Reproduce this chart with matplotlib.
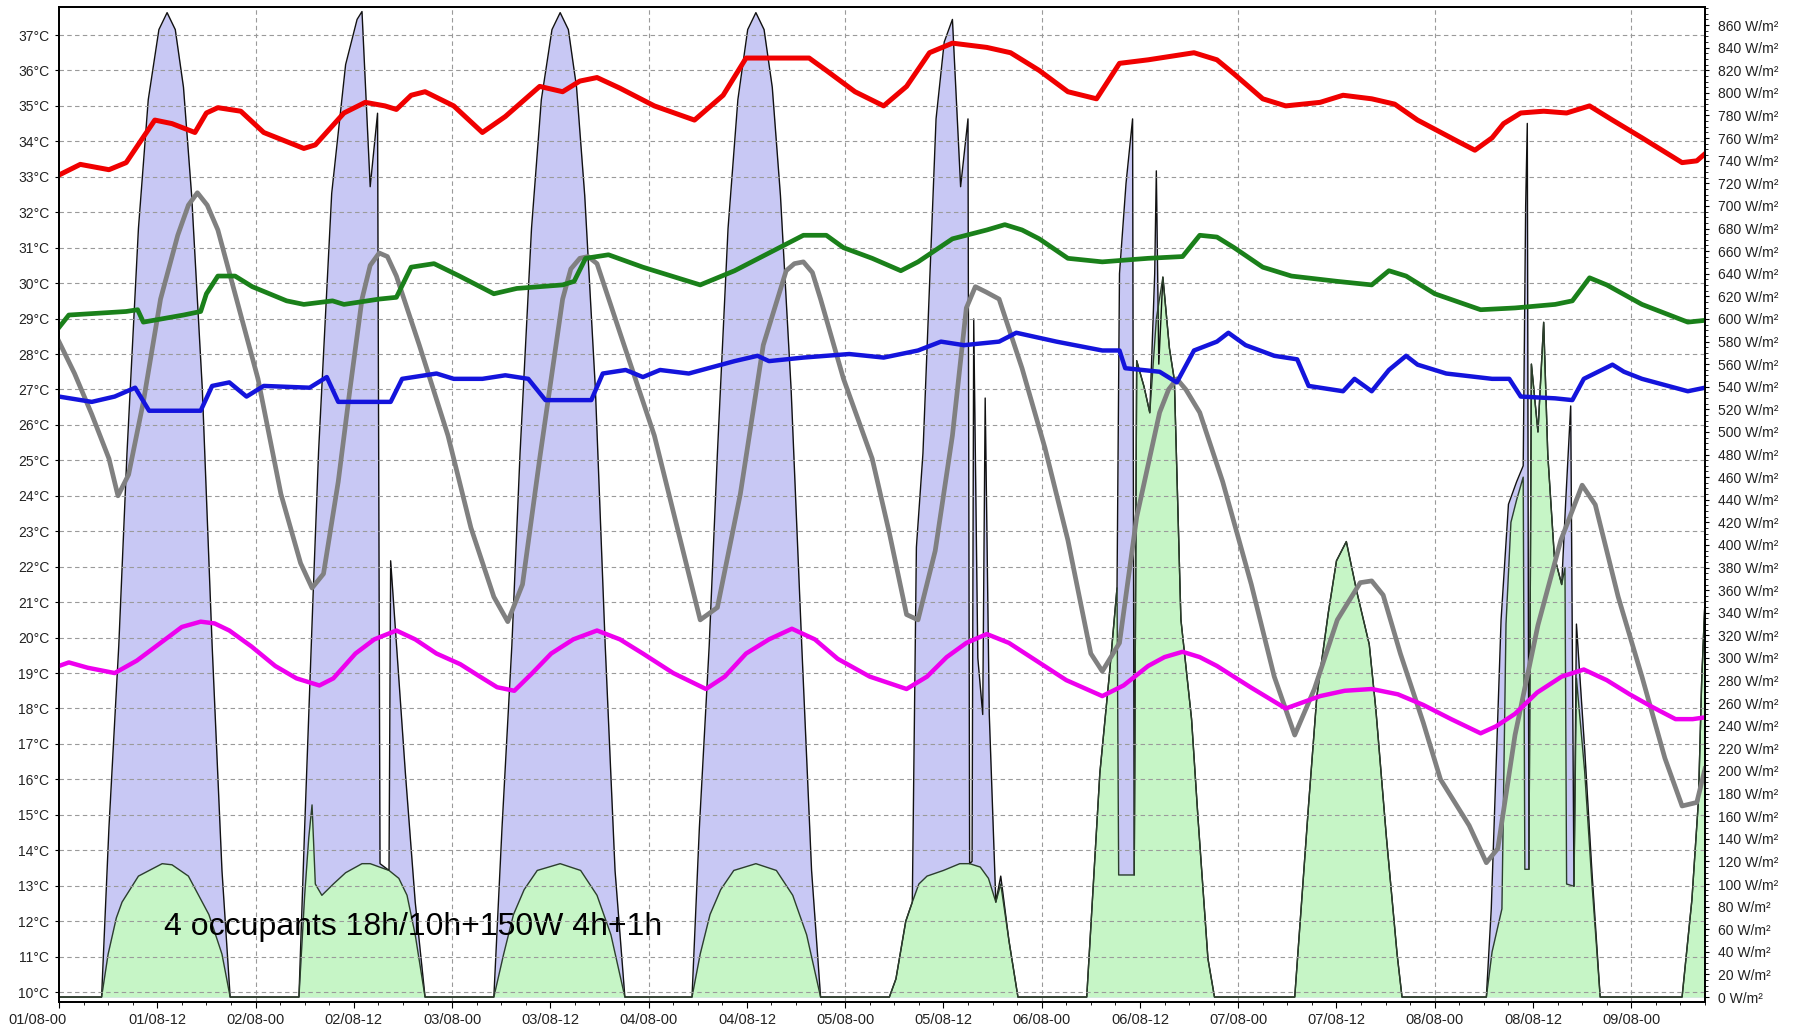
import matplotlib
matplotlib.use('Agg')
import matplotlib.pyplot as plt
import matplotlib.transforms as mtrans
from matplotlib.ticker import MultipleLocator, FixedLocator

plt.rcParams['font.family'] = ['Liberation Sans', 'DejaVu Sans']

# time axis in hours from 01/08-00
x_ticks = list(range(0, 193, 12))
x_labels = ['01/08-00', '01/08-12', '02/08-00', '02/08-12', '03/08-00', '03/08-12',
            '04/08-00', '04/08-12', '05/08-00', '05/08-12', '06/08-00', '06/08-12',
            '07/08-00', '07/08-12', '08/08-00', '08/08-12', '09/08-00']

# global irradiance (lavender area), W/m2
t_glob = [0, 5.2, 6.1, 7.3, 8.3, 9.7, 10.9, 12.2, 13.2, 14.2, 15.2, 16.2, 17.5, 18.7, 19.9, 20.9,
          29.3, 30.0, 31.0, 31.7, 33.3, 35.0, 36.4, 37.0, 38.0, 38.9, 39.2, 40.3, 40.5, 42.3, 43.5, 44.7,
          53.1, 54.1, 55.3, 56.3, 57.7, 58.9, 60.2, 61.2, 62.2, 63.2, 64.2, 65.5, 66.7, 67.9, 69.1,
          77.3, 78.2, 79.4, 80.4, 81.7, 82.9, 84.1, 85.1, 86.1, 87.1, 88.1, 89.4, 90.7, 91.9, 93.0,
          101.4, 102.2, 103.4, 104.2, 104.7, 105.5, 107.1, 108.1, 109.1, 110.1, 111.0, 111.2, 111.5,
          111.7, 112.2, 112.8, 113.1, 113.6, 114.4, 115.0, 116.0, 117.1,
          125.5, 127.1, 128.3, 129.2, 129.5, 130.3, 131.1, 131.3, 131.6, 132.5, 133.2, 133.8, 134.0,
          134.3, 134.8, 135.6, 136.2, 137.0, 138.3, 139.1, 140.3, 141.1,
          150.9, 151.8, 152.6, 153.6, 155.0, 156.0, 157.2, 158.5, 160.0, 160.8, 162.1, 163.4, 164.0,
          174.3, 174.9, 176.1, 177.0, 178.0, 178.8, 179.1, 179.3, 179.5, 179.8, 180.6, 181.3, 181.8,
          182.6, 183.5, 184.0, 184.6, 185.0, 185.3, 186.3, 187.2, 188.2,
          198.2, 199.4, 200.2, 200.6, 201.0]
glob = [0, 0, 150, 311, 481, 680, 794, 856, 871, 856, 805, 709, 538, 311, 112, 0,
        0, 150, 350, 483, 711, 825, 865, 872, 717, 782, 118, 112, 386, 198, 84, 0,
        0, 150, 311, 481, 680, 794, 856, 871, 856, 805, 709, 538, 311, 112, 0,
        0, 150, 311, 481, 680, 794, 856, 871, 856, 805, 709, 538, 311, 112, 0,
        0, 16, 67, 84, 398, 481, 777, 845, 865, 717, 777, 118, 120,
        600, 300, 250, 530, 250, 84, 107, 50, 0,
        0, 198, 288, 362, 640, 720, 777, 108, 563, 540, 517, 640, 731,
        560, 637, 574, 546, 334, 246, 157, 34, 0,
        0, 90, 171, 266, 340, 386, 403, 358, 312, 255, 141, 38, 0,
        0, 78, 334, 436, 456, 470, 700, 773, 113, 560, 500, 597, 480,
        390, 365, 440, 523, 98, 330, 220, 110, 0,
        0, 86, 174, 281, 351]

# diffuse irradiance (green area), W/m2
t_diff = [0, 5.2, 6.0, 7.0, 7.7, 9.7, 12.6, 13.8, 15.8, 18.3, 19.9, 20.9,
          29.3, 30.0, 30.5, 30.9, 31.3, 32.1, 33.5, 35.0, 37.0, 38.0, 40.3, 41.5, 42.5, 43.5, 44.7,
          53.1, 54.3, 55.5, 56.8, 58.4, 61.2, 63.7, 65.7, 67.4, 69.1,
          77.3, 78.3, 79.5, 80.8, 82.4, 85.1, 87.6, 89.6, 91.3, 93.0,
          101.4, 102.2, 103.4, 104.2, 105.0, 106.0, 108.0, 110.0, 111.2, 112.5, 113.5, 114.4, 115.0,
          116.0, 117.1,
          125.5, 127.1, 128.3, 129.2, 129.4, 131.3, 131.6, 132.5, 133.2, 134.0, 134.8, 135.6, 136.2,
          137.0, 138.3, 139.1, 140.3, 141.1,
          150.9, 151.8, 152.6, 153.6, 155.0, 156.0, 157.2, 158.5, 160.0, 160.8, 162.1, 163.4, 164.0,
          174.3, 175.0, 176.2, 176.7, 177.3, 178.0, 178.8, 179.0, 179.5, 179.8, 180.6, 181.3, 181.8,
          182.6, 183.5, 183.9, 184.1, 185.0, 185.3, 186.3, 187.2, 188.2,
          198.2, 199.4, 200.2, 200.6, 201.0]
diff = [0, 0, 38, 70, 84, 107, 118, 117, 107, 73, 38, 0,
        0, 90, 141, 170, 100, 90, 100, 110, 118, 118, 112, 105, 90, 55, 0,
        0, 38, 73, 95, 112, 118, 112, 90, 55, 0,
        0, 38, 73, 95, 112, 118, 112, 90, 55, 0,
        0, 16, 67, 84, 100, 107, 112, 118, 118, 115, 105, 84, 100,
        50, 0,
        0, 198, 288, 362, 108, 108, 563, 540, 517, 600, 637, 574, 546,
        334, 246, 157, 34, 0,
        0, 90, 171, 266, 340, 386, 403, 358, 312, 255, 141, 38, 0,
        0, 40, 78, 330, 420, 440, 460, 113, 113, 560, 500, 597, 480,
        390, 365, 380, 100, 98, 282, 200, 100, 0,
        0, 86, 174, 281, 351]

# temperatures, degC
t_red = [0, 2.6, 6.1, 8.2, 11.7, 13.8, 16.6, 18.0, 19.4, 22.2, 25.0, 29.9, 31.3, 34.8, 37.4, 39.8,
         41.2, 43.0, 44.7, 48.2, 51.7, 54.5, 58.7, 61.5, 63.6, 65.7, 68.5, 72.7, 77.6, 81.1, 83.9,
         88.1, 91.6, 93.7, 97.2, 100.7, 103.5, 106.3, 109.1, 113.3, 116.2, 119.7, 123.2, 126.7,
         128.1, 129.5, 133.0, 135.8, 138.6, 141.4, 143.5, 147.0, 149.8, 154.0, 156.8, 160.3, 163.1,
         165.9, 170.8, 172.9, 175.0, 176.4, 178.5, 181.3, 184.1, 186.9, 189.7, 193.3, 198.2, 200.0, 201.0]
red = [33.05, 33.35, 33.2, 33.4, 34.6, 34.5, 34.25, 34.8, 34.95, 34.85, 34.25, 33.8, 33.9, 34.8, 35.1, 35.0,
       34.9, 35.3, 35.4, 35.0, 34.25, 34.7, 35.55, 35.4, 35.7, 35.8, 35.5, 35.0, 34.6, 35.3, 36.35,
       36.35, 36.35, 36.0, 35.4, 35.0, 35.55, 36.5, 36.77, 36.65, 36.5, 36.0, 35.4, 35.2,
       35.7, 36.2, 36.3, 36.4, 36.5, 36.3, 35.9, 35.2, 35.0, 35.1, 35.3, 35.2, 35.05,
       34.6, 34.0, 33.75, 34.1, 34.5, 34.8, 34.85, 34.8, 35.0, 34.6, 34.1, 33.4, 33.45, 33.65]

t_green = [0, 1.2, 8.2, 9.6, 10.3, 15.2, 17.3, 18.0, 19.4, 21.5, 23.6, 27.8, 29.9, 33.4, 34.8, 39.1,
           41.2, 43.0, 45.8, 48.9, 53.1, 55.9, 61.5, 62.9, 64.3, 67.1, 71.3, 78.3, 82.5, 86.7, 90.9,
           93.7, 95.8, 99.3, 102.8, 104.9, 109.1, 113.3, 115.5, 117.6, 119.7, 123.2, 127.4, 133.0,
           137.2, 139.3, 141.4, 143.5, 147.0, 150.5, 156.1, 160.3, 162.4, 164.5, 168.0, 173.6, 177.8,
           182.7, 184.8, 186.9, 189.0, 193.3, 198.9, 201.0]
green = [28.75, 29.1, 29.2, 29.25, 28.9, 29.1, 29.2, 29.7, 30.2, 30.2, 29.9, 29.5, 29.4, 29.5, 29.4, 29.55,
         29.6, 30.45, 30.55, 30.2, 29.7, 29.85, 29.95, 30.05, 30.7, 30.8, 30.45, 29.95, 30.35, 30.85, 31.35,
         31.35, 31.0, 30.7, 30.35, 30.6, 31.25, 31.5, 31.65, 31.5, 31.25, 30.7, 30.6, 30.7,
         30.75, 31.35, 31.3, 31.0, 30.45, 30.2, 30.05, 29.95, 30.35, 30.2, 29.7, 29.25, 29.3,
         29.4, 29.5, 30.15, 29.95, 29.4, 28.9, 28.95]

t_blue = [0, 4.0, 6.8, 9.3, 11.0, 17.3, 18.7, 20.8, 22.9, 25.0, 30.6, 32.7, 34.1, 40.5, 41.9, 46.1,
          48.2, 51.7, 54.5, 57.3, 59.4, 65.0, 66.4, 69.2, 71.3, 73.4, 76.9, 82.5, 85.3, 86.7, 90.9,
          96.5, 100.7, 104.9, 107.7, 110.5, 114.8, 116.9, 121.8, 127.4, 129.5, 130.2, 134.4, 136.5,
          138.6, 141.4, 142.8, 144.9, 148.4, 151.2, 152.6, 156.8, 158.2, 160.3, 162.4, 164.5, 165.9,
          169.4, 175.0, 177.1, 178.5, 182.7, 184.8, 186.2, 189.7, 191.1, 193.3, 198.9, 201.0]
blue = [26.8, 26.65, 26.8, 27.05, 26.4, 26.4, 27.1, 27.2, 26.8, 27.1, 27.05, 27.35, 26.65, 26.65, 27.3, 27.45,
        27.3, 27.3, 27.4, 27.3, 26.7, 26.7, 27.45, 27.55, 27.35, 27.55, 27.45, 27.8, 27.95, 27.8, 27.9,
        28.0, 27.9, 28.1, 28.35, 28.25, 28.35, 28.6, 28.35, 28.1, 28.1, 27.6, 27.5, 27.2,
        28.1, 28.35, 28.6, 28.25, 27.95, 27.85, 27.1, 26.95, 27.3, 26.95, 27.55, 27.95, 27.7,
        27.45, 27.3, 27.3, 26.8, 26.75, 26.7, 27.3, 27.7, 27.5, 27.3, 26.95, 27.05]

t_mag = [0, 1.2, 3.5, 6.8, 9.5, 12.4, 15.0, 17.3, 19.0, 20.8, 23.5, 26.4, 29.0, 31.8, 33.5, 36.2,
         38.5, 41.2, 43.5, 46.1, 49.0, 51.4, 53.5, 55.6, 57.8, 60.1, 62.8, 65.7, 68.5, 71.3, 75.0,
         79.0, 81.3, 83.9, 86.7, 89.5, 92.3, 95.1, 99.0, 103.5, 106.0, 108.4, 110.8, 113.3, 116.0,
         119.0, 123.0, 127.4, 130.0, 133.0, 135.0, 137.2, 139.3, 141.4, 145.5, 149.8, 154.0, 157.0,
         160.3, 163.5, 166.6, 170.0, 173.6, 175.5, 177.8, 180.5, 183.5, 186.2, 189.0, 191.8, 194.5,
         197.4, 199.5, 201.0]
mag = [19.2, 19.3, 19.15, 19.0, 19.35, 19.85, 20.3, 20.45, 20.4, 20.2, 19.75, 19.2, 18.85, 18.65, 18.85, 19.55,
       19.95, 20.2, 19.95, 19.55, 19.25, 18.9, 18.6, 18.5, 19.0, 19.55, 19.95, 20.2, 19.95, 19.55, 19.0,
       18.55, 18.9, 19.55, 19.95, 20.25, 19.95, 19.4, 18.9, 18.55, 18.9, 19.45, 19.85, 20.1, 19.85,
       19.4, 18.8, 18.35, 18.65, 19.2, 19.45, 19.6, 19.45, 19.2, 18.6, 18.0, 18.35, 18.5,
       18.55, 18.4, 18.1, 17.7, 17.3, 17.5, 17.85, 18.45, 18.9, 19.1, 18.8, 18.4, 18.05,
       17.7, 17.7, 17.75]

t_gray = [0, 1.9, 4.0, 6.1, 7.2, 8.5, 10.3, 12.4, 14.5, 15.8, 16.9, 18.1, 19.4, 21.5, 24.3, 27.1,
          29.5, 30.9, 32.3, 34.1, 35.5, 37.0, 38.0, 39.1, 40.1, 41.2, 44.0, 47.5, 50.3, 53.1, 54.8,
          56.6, 58.7, 61.5, 62.5, 63.6, 64.6, 65.7, 68.5, 72.7, 75.5, 78.3, 80.4, 83.2, 86.0, 88.8,
          89.8, 90.9, 92.0, 93.0, 95.8, 99.3, 101.4, 103.5, 104.9, 107.0, 109.1, 110.8, 111.9, 113.2,
          114.8, 117.6, 120.4, 123.2, 126.0, 127.4, 129.5, 131.6, 134.4, 135.5, 136.5, 137.6, 139.3,
          142.1, 145.6, 148.4, 150.9, 153.3, 156.1, 158.9, 160.3, 161.7, 163.8, 166.6, 168.7, 172.2,
          174.3, 175.7, 177.8, 180.6, 183.4, 186.0, 187.6, 190.4, 193.3, 196.1, 198.2, 200.0, 201.0]
gray = [28.35, 27.45, 26.3, 25.05, 24.0, 24.6, 26.65, 29.55, 31.35, 32.2, 32.55, 32.2, 31.5, 29.7, 27.3, 24.05,
        22.1, 21.4, 21.8, 24.4, 26.95, 29.55, 30.5, 30.85, 30.75, 30.2, 28.25, 25.7, 23.1, 21.15, 20.45,
        21.5, 25.05, 29.55, 30.4, 30.7, 30.75, 30.55, 28.6, 25.7, 23.1, 20.5, 20.85, 24.05, 28.25, 30.35,
        30.55, 30.6, 30.3, 29.55, 27.3, 25.05, 22.95, 20.65, 20.5, 22.45, 25.7, 29.3, 29.9, 29.75,
        29.55, 27.6, 25.35, 22.75, 19.55, 19.05, 19.85, 23.4, 26.35, 27.0, 27.3, 27.0, 26.35,
        24.4, 21.5, 18.9, 17.25, 18.55, 20.5, 21.55, 21.6, 21.2, 19.55, 17.6, 16.0, 14.7,
        13.65, 14.05, 17.25, 20.35, 22.75, 24.3, 23.75, 21.15, 18.9, 16.6, 15.25, 15.35, 16.3]

note = '4 occupants 18h/10h+150W 4h+1h'

fig = plt.figure(figsize=(17.98, 10.36), dpi=100)
# ax carries the irradiance (right scale), ax2 the temperatures (left scale)
ax = fig.add_axes([59 / 1798, 34 / 1036, 1646 / 1798, 995 / 1036])
ax2 = ax.twinx()

ax.fill_between(t_glob, glob, 0, color='#c8c8f4', lw=0)
ax.plot(t_glob, glob, color='#111111', lw=1.0)
ax.fill_between(t_diff, diff, 0, color='#c6f5c6', lw=0)
ax.plot(t_diff, diff, color='#2b3f2b', lw=1.0)
ax.text(12.8, 62, note, fontsize=23, ha='left', va='center', color='black', zorder=5)

ax2.plot(t_gray, gray, color='#808080', lw=3.4, solid_joinstyle='round')
ax2.plot(t_mag, mag, color='#ee00ee', lw=3.2, solid_joinstyle='round')
ax2.plot(t_blue, blue, color='#1414dc', lw=3.2, solid_joinstyle='round')
ax2.plot(t_green, green, color='#1a801a', lw=3.4, solid_joinstyle='round')
ax2.plot(t_red, red, color='#f00000', lw=3.6, solid_joinstyle='round')

ax.set_xlim(0, 201)
ax.set_ylim(-4.4, 876)
ax2.set_ylim(9.72, 37.79)

# grid: dashed, every degree and every day
ax2.grid(axis='y', color='#9a9a9a', ls=(0, (4, 3)), lw=0.8)
for d in range(24, 201, 24):
    ax2.axvline(d, color='#9a9a9a', ls=(0, (4, 3)), lw=0.8, zorder=1.5)

# left axis: temperatures
ax2.yaxis.tick_left()
t_ticks = list(range(10, 38))
ax2.yaxis.set_major_locator(FixedLocator(t_ticks))
ax2.set_yticklabels([f'{v}°C' for v in t_ticks])
ax2.tick_params(axis='y', labelsize=10, length=3, pad=4, labelcolor='#222222')

# right axis: irradiance
ax.yaxis.tick_right()
w_ticks = list(range(0, 861, 20))
ax.yaxis.set_major_locator(FixedLocator(w_ticks))
ax.set_yticklabels([f'{v} W/m²' for v in w_ticks])
ax.yaxis.set_minor_locator(MultipleLocator(5))
ax.tick_params(axis='y', which='major', labelsize=10, length=3, pad=6, labelcolor='#222222')
ax.tick_params(axis='y', which='minor', length=2)

# bottom axis
ax.set_xticks(x_ticks)
ax.set_xticklabels(x_labels)
ax.xaxis.set_minor_locator(MultipleLocator(3))
ax.tick_params(axis='x', which='major', labelsize=10.5, length=4, pad=4, labelcolor='#222222')
ax.tick_params(axis='x', which='minor', length=2.5)
first = ax.get_xticklabels()[0]
first.set_transform(first.get_transform() + mtrans.ScaledTranslation(-0.22, 0, fig.dpi_scale_trans))

for a in (ax, ax2):
    for s in a.spines.values():
        s.set_linewidth(1.3)
        s.set_color('black')

plt.savefig('out.png', dpi=100)
